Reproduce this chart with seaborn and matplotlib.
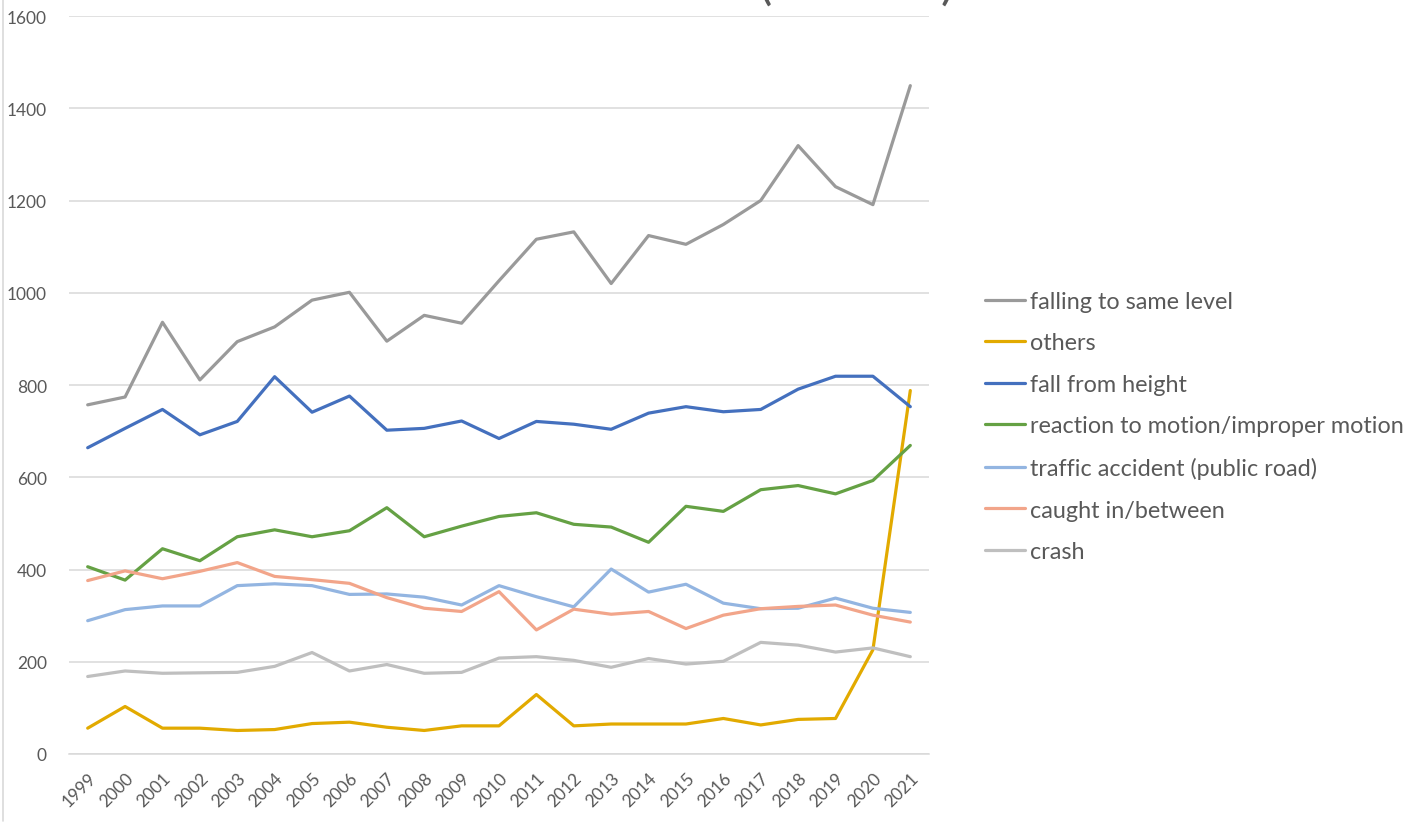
import matplotlib
matplotlib.use('Agg')
import matplotlib.pyplot as plt
import pandas as pd
import seaborn as sns
from matplotlib.lines import Line2D

# Data
years = list(range(1999, 2022))

falling_same_level = [757, 774, 936, 811, 894, 926, 984, 1001, 895, 951, 934, 1026,
                      1116, 1132, 1020, 1124, 1105, 1148, 1200, 1319, 1230, 1191, 1449]
others = [56, 103, 56, 56, 51, 53, 66, 69, 58, 51, 61, 61,
          129, 61, 65, 65, 65, 77, 63, 75, 77, 226, 788]
fall_from_height = [664, 706, 747, 692, 721, 818, 741, 776, 702, 706, 722, 684,
                    721, 715, 704, 739, 753, 742, 747, 791, 819, 819, 753]
reaction_motion = [406, 377, 445, 419, 471, 486, 471, 484, 534, 471, 494, 515,
                   523, 498, 492, 459, 537, 526, 573, 582, 564, 593, 669]
traffic_accident = [289, 313, 321, 321, 365, 369, 365, 346, 347, 340, 323, 365,
                    341, 319, 401, 351, 368, 327, 315, 316, 338, 316, 307]
caught_between = [376, 397, 380, 396, 415, 385, 378, 370, 339, 316, 309, 352,
                  269, 314, 303, 309, 272, 301, 315, 320, 323, 301, 286]
crash = [168, 180, 175, 176, 177, 190, 220, 180, 194, 175, 177, 208,
         211, 203, 188, 207, 195, 201, 242, 236, 221, 230, 211]

series_names = ['falling to same level', 'others', 'fall from height',
                'reaction to motion/improper motion', 'traffic accident (public road)',
                'caught in/between', 'crash']
series_values = [falling_same_level, others, fall_from_height, reaction_motion,
                 traffic_accident, caught_between, crash]
colors = ['#9A9A9A', '#E2AA00', '#4470BE', '#65A144', '#93B5E1', '#F2A58A', '#BFBFBF']

df = pd.DataFrame({
    'year': years * len(series_names),
    'type': [n for n in series_names for _ in years],
    'value': [v for vals in series_values for v in vals],
})

sns.set_style('white')
plt.rcParams['font.family'] = ['Lato', 'DejaVu Sans']
text_color = '#595959'
grid_color = '#D9D9D9'

fig = plt.figure(figsize=(14.09, 8.29), dpi=100)
ax = fig.add_axes([69 / 1409, 1 - 755 / 829, (929 - 69) / 1409, (755 - 17) / 829])

sns.lineplot(data=df, x='year', y='value', hue='type', hue_order=series_names,
             palette=dict(zip(series_names, colors)), linewidth=2.3, ax=ax)

ax.set_xlim(1998.5, 2021.5)
ax.set_ylim(0, 1600)
ax.set_yticks(range(0, 1601, 200))
ax.set_xticks(years)
ax.set_xticklabels([str(y) for y in years], rotation=45, ha='right',
                   rotation_mode='anchor')
ax.set_xlabel('')
ax.set_ylabel('')
ax.grid(axis='y', color=grid_color, linewidth=1.1)
ax.set_axisbelow(True)
for s in ['top', 'right', 'left']:
    ax.spines[s].set_visible(False)
ax.spines['bottom'].set_color(grid_color)
ax.spines['bottom'].set_linewidth(1.1)
ax.tick_params(axis='both', length=0, labelsize=12.5, colors=text_color)
ax.tick_params(axis='y', pad=16)
ax.tick_params(axis='x', pad=11)

# Legend on the right
handles, labels = ax.get_legend_handles_labels()
ax.legend(handles, labels, loc='center left', bbox_to_anchor=(985 / 1409, 1 - 427.5 / 829),
          bbox_transform=fig.transFigure, frameon=False, fontsize=16.8,
          labelcolor=text_color, handlelength=1.72, handletextpad=0.2,
          labelspacing=0.88, borderpad=0, borderaxespad=0)

# Title cut off at the top of the image
fig.text(857 / 1409, 1 + 1 / 829, '(number)', ha='center', va='baseline',
         fontsize=36, color=text_color)

# Chart frame edge on the left
fig.add_artist(Line2D([3 / 1409, 3 / 1409], [7 / 829, 1], transform=fig.transFigure,
                      color=grid_color, linewidth=1.2))

fig.savefig('out.png', dpi=100)
